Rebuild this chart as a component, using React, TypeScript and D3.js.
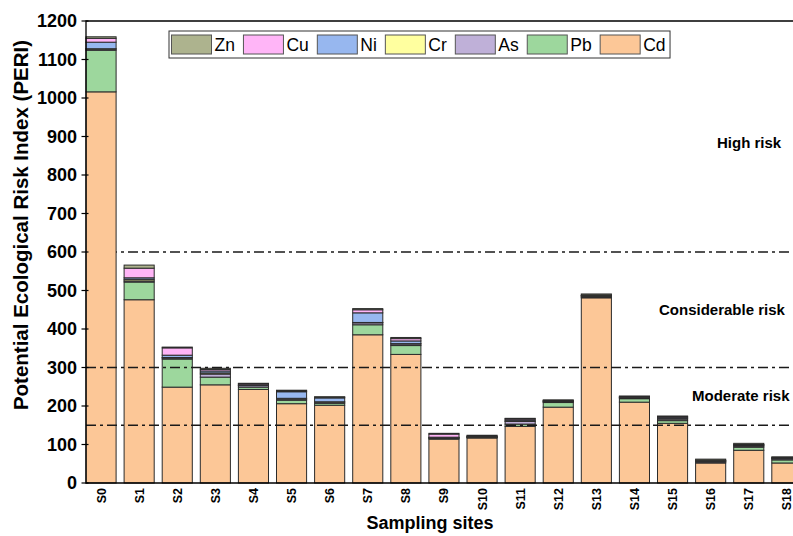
import React, { useEffect, useRef } from "react";
import * as d3 from "d3";

// Sampling sites along the x axis
const sites = ["S0", "S1", "S2", "S3", "S4", "S5", "S6", "S7", "S8", "S9", "S10", "S11", "S12", "S13", "S14", "S15", "S16", "S17", "S18"];

// Single-element potential ecological risk (Er) per site
const cd = [1016, 476, 249, 255, 243, 206, 202, 385, 334, 114, 117, 147, 197, 481, 210, 155, 52, 85, 52];
const pb = [108, 46, 73, 20, 6, 9, 5, 26, 23, 2, 1, 6, 12, 2, 9, 7, 2, 8, 8];
const as = [3, 3, 3, 8, 4, 3, 3, 5, 4, 1, 1, 7, 2, 2, 2, 4, 2, 3, 3];
const cr = [1, 4, 1, 3, 1, 2, 1, 1, 1, 1, 1, 1, 1, 1, 1, 2, 1, 1, 1];
const ni = [17, 4, 6, 5, 1, 17, 10, 25, 7, 1, 1, 3, 1, 1, 1, 3, 1, 2, 1];
const cu = [10, 25, 19, 4, 3, 2, 2, 8, 6, 8, 1, 3, 1, 1, 1, 1, 1, 1, 1];
const zn = [4, 8, 2, 3, 1, 2, 1, 3, 3, 2, 2, 1, 2, 3, 2, 2, 3, 3, 2];

// Stack order, bottom to top
const metals = ["Cd", "Pb", "As", "Cr", "Ni", "Cu", "Zn"];
const metalValues = [cd, pb, as, cr, ni, cu, zn];
const metalColors = ["#fcc797", "#9dd79d", "#bfb0d8", "#ffff9f", "#97b7ef", "#ffb5f7", "#adb38e"];

// Legend order, left to right
const legendOrder = ["Zn", "Cu", "Ni", "Cr", "As", "Pb", "Cd"];

// PERI grade boundaries and the grade labels
const thresholds = [150, 300, 600];
const riskLabels = ["Moderate risk", "Considerable risk", "High risk"];
const riskLabelValues = [213, 436, 870];
const riskLabelX = [692, 659, 717];

const yTicks = d3.range(0, 1201, 100);

const W = 793;
const H = 536;
const FONT = "'Liberation Sans', Arial, Helvetica, sans-serif";

export default function App() {
  const ref = useRef<SVGSVGElement>(null);

  useEffect(() => {
    const svg = d3.select(ref.current);
    svg.selectAll("*").remove();

    const left = 86;
    const top = 21;
    const bottom = 483;
    const step = 38.1;
    const padInner = 0.21;

    const x = d3
      .scaleBand<string>()
      .domain(sites)
      .range([left, left + step * (sites.length - padInner)])
      .paddingInner(padInner)
      .paddingOuter(0);
    const y = d3.scaleLinear().domain([0, 1200]).range([bottom, top]);

    const rows = sites.map((s, i) => {
      const r: Record<string, any> = { site: s };
      metals.forEach((m, k) => (r[m] = metalValues[k][i]));
      return r;
    });
    const series = d3.stack().keys(metals)(rows as any);
    const color = d3.scaleOrdinal<string, string>().domain(metals).range(metalColors);

    const dash = "10,4,3,4";
    const lineRight = W + 20;

    // High-risk boundary sits behind the bars
    svg
      .append("line")
      .attr("x1", left)
      .attr("x2", lineRight)
      .attr("y1", y(thresholds[2]))
      .attr("y2", y(thresholds[2]))
      .attr("stroke", "#1a1a1a")
      .attr("stroke-width", 1.5)
      .attr("stroke-dasharray", dash);

    // Stacked bars
    const g = svg.append("g");
    series.forEach((s) => {
      g.append("g")
        .attr("fill", color(s.key))
        .selectAll("rect")
        .data(s)
        .join("rect")
        .attr("x", (d: any) => x(d.data.site)!)
        .attr("width", x.bandwidth())
        .attr("y", (d: any) => y(d[1]))
        .attr("height", (d: any) => Math.max(0, y(d[0]) - y(d[1])))
        .attr("stroke", "#2b2b2b")
        .attr("stroke-width", 1);
    });

    // Moderate / considerable boundaries drawn over the bars
    svg
      .append("g")
      .selectAll("line")
      .data(thresholds.slice(0, 2))
      .join("line")
      .attr("x1", left)
      .attr("x2", lineRight)
      .attr("y1", (d) => y(d))
      .attr("y2", (d) => y(d))
      .attr("stroke", "#1a1a1a")
      .attr("stroke-width", 1.5)
      .attr("stroke-dasharray", dash);

    // Frame: left axis, top border, bottom axis
    svg
      .append("path")
      .attr("d", `M${lineRight},${top}H${left}V${bottom}H${lineRight}`)
      .attr("fill", "none")
      .attr("stroke", "#000")
      .attr("stroke-width", 1.3);

    // Y ticks and labels
    const yt = svg.append("g");
    yt.selectAll("line")
      .data(yTicks)
      .join("line")
      .attr("x1", left - 4.5)
      .attr("x2", left + 2.5)
      .attr("y1", (d) => y(d))
      .attr("y2", (d) => y(d))
      .attr("stroke", "#000")
      .attr("stroke-width", 1.2);
    yt.selectAll("text")
      .data(yTicks)
      .join("text")
      .attr("x", 77)
      .attr("y", (d) => y(d))
      .attr("dy", "0.36em")
      .attr("text-anchor", "end")
      .attr("font-family", FONT)
      .attr("font-weight", "bold")
      .attr("font-size", 18)
      .attr("fill", "#000")
      .text((d) => String(d));

    // X tick labels (rotated)
    svg
      .append("g")
      .selectAll("text")
      .data(sites)
      .join("text")
      .attr("transform", (d) => `translate(${x(d)! + x.bandwidth() / 2},488) rotate(-90)`)
      .attr("dy", "0.36em")
      .attr("text-anchor", "end")
      .attr("font-family", FONT)
      .attr("font-weight", "bold")
      .attr("font-size", 12.5)
      .attr("fill", "#000")
      .text((d) => d);

    // Axis titles
    svg
      .append("text")
      .attr("transform", `translate(28,225) rotate(-90)`)
      .attr("text-anchor", "middle")
      .attr("font-family", FONT)
      .attr("font-weight", "bold")
      .attr("font-size", 20.5)
      .attr("fill", "#000")
      .text("Potential Ecological Risk Index (PERI)");
    svg
      .append("text")
      .attr("x", 430)
      .attr("y", 529)
      .attr("text-anchor", "middle")
      .attr("font-family", FONT)
      .attr("font-weight", "bold")
      .attr("font-size", 18)
      .attr("fill", "#000")
      .text("Sampling sites");

    // Risk grade labels
    svg
      .append("g")
      .selectAll("text")
      .data(riskLabels)
      .join("text")
      .attr("x", (_d, i) => riskLabelX[i])
      .attr("y", (_d, i) => y(riskLabelValues[i]))
      .attr("font-family", FONT)
      .attr("font-weight", "bold")
      .attr("font-size", 15)
      .attr("fill", "#000")
      .text((d) => d);

    // Legend
    const lg = svg.append("g");
    const box = lg
      .append("rect")
      .attr("x", 169)
      .attr("y", 31)
      .attr("height", 27)
      .attr("fill", "#fff")
      .attr("stroke", "#333")
      .attr("stroke-width", 1);
    let cx = 171.5;
    legendOrder.forEach((m) => {
      lg.append("rect")
        .attr("x", cx)
        .attr("y", 35)
        .attr("width", 40)
        .attr("height", 19)
        .attr("fill", color(m))
        .attr("stroke", "#555")
        .attr("stroke-width", 1);
      const t = lg
        .append("text")
        .attr("x", cx + 43)
        .attr("y", 51)
        .attr("font-family", FONT)
        .attr("font-size", 17.5)
        .attr("fill", "#000")
        .text(m);
      const w = (t.node() as SVGTextElement).getComputedTextLength();
      cx += 43 + w + 8.5;
    });
    box.attr("width", cx - 169 - 4);
  }, []);

  return (
    <svg
      ref={ref}
      width={W}
      height={H}
      style={{ position: "absolute", left: 0, top: 0, background: "#fff" }}
    />
  );
}
